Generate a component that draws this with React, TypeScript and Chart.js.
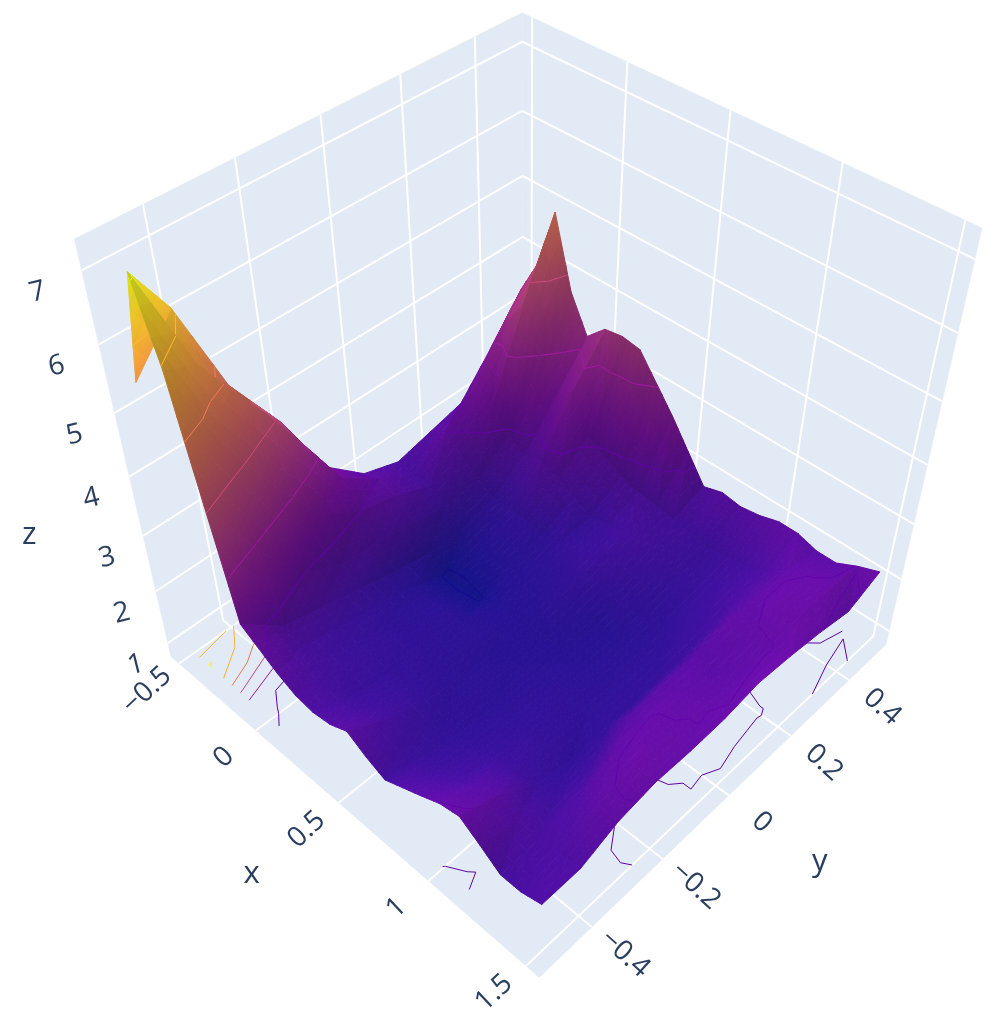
import React, { useEffect, useRef } from "react";
import { Chart, registerables } from "chart.js";

Chart.register(...registerables);

const xValues = [-0.5,-0.4,-0.3,-0.2,-0.1,0,0.1,0.2,0.3,0.4,0.5,0.6,0.7,0.8,0.9,1,1.1,1.2,1.3,1.4,1.5];
const yValues = [-0.5,-0.4,-0.3,-0.2,-0.1,0,0.1,0.2,0.3,0.4,0.5];

const zAtYm05 = [5.4,7.1,5.95,4.1,2.3,2.1,1.9,1.75,1.7,1.75,1.9,1.7,1.55,1.7,1.85,2.01,2.08,1.85,1.6,1.6,1.7];
const zAtYm04 = [6.1,5.5,4.4,2.9,1.75,1.6,1.55,1.5,1.45,1.5,1.55,1.45,1.4,1.45,1.55,1.75,1.85,1.68,1.62,1.65,1.7];
const zAtYm03 = [4.5,4.55,3.3,2.0,1.6,1.45,1.4,1.4,1.35,1.35,1.35,1.3,1.3,1.35,1.4,1.45,1.42,1.45,1.7,1.93,1.95];
const zAtYm02 = [3.6,3.5,2.4,1.7,1.45,1.35,1.3,1.3,1.3,1.28,1.25,1.28,1.25,1.3,1.35,1.35,1.3,1.5,1.97,2.08,2.05];
const zAtYm01 = [2.4,2.4,2.0,1.65,1.3,1.22,1.22,1.25,1.25,1.25,1.22,1.22,1.25,1.28,1.3,1.3,1.35,1.8,2.02,2.03,2.03];
const zAtY00 = [1.85,1.95,1.85,1.55,1.18,0.97,0.96,0.98,1.15,1.2,1.2,1.2,1.2,1.22,1.25,1.3,1.35,1.85,1.95,1.98,2.05];
const zAtY01 = [1.65,1.6,1.6,1.4,1.18,1.15,1.18,1.2,1.22,1.25,1.3,1.25,1.2,1.22,1.25,1.3,1.4,1.85,1.85,1.92,2.15];
const zAtY02 = [1.8,2.0,1.75,1.5,1.35,1.35,1.35,1.3,1.35,1.4,1.45,1.4,1.35,1.3,1.3,1.4,1.5,1.95,1.95,1.98,2.1];
const zAtY03 = [1.95,2.5,2.3,1.9,1.75,1.85,1.7,1.55,1.4,1.45,1.55,1.5,1.45,1.4,1.4,1.5,1.65,1.95,2.1,2.1,2.02];
const zAtY04 = [2.6,3.3,3.7,3.0,2.45,2.75,2.1,1.9,1.75,1.65,1.6,1.55,1.5,1.45,1.5,1.55,1.7,1.95,2.02,2.1,1.9];
const zAtY05 = [3.3,3.9,4.9,3.75,3.15,3.45,3.5,3.45,3.05,2.65,2.2,1.75,1.85,1.8,1.85,1.95,1.95,1.85,1.85,2.02,2.15];
const zRows = [zAtYm05,zAtYm04,zAtYm03,zAtYm02,zAtYm01,zAtY00,zAtY01,zAtY02,zAtY03,zAtY04,zAtY05];

const xTicks = [-0.5,0,0.5,1,1.5];
const yTicks = [-0.4,-0.2,0,0.2,0.4];
const zTicks = [1,2,3,4,5,6,7];
const contourLevels = [1,2,3,4,5,6,7];

const X_RANGE = [-0.555,1.565];
const Y_RANGE = [-0.54,0.534];
const Z_RANGE = [0.73,7.4];
const COLOR_RANGE = [0.95,7.1];
const PLASMA = ["#0d0887","#46039f","#7201a8","#9c179e","#bd3786","#d8576b","#ed7953","#fb9f3a","#fdca26","#f0f921"];
const WALL = "#e2eaf5";
const INK = "#2a3f5f";
const TICK_FONT = '28px "Open Sans"';
const TITLE_FONT = '31px "Open Sans"';
const SUBDIVISION = 3;

const calibration = [
  [X_RANGE[0],Y_RANGE[0],Z_RANGE[0],170.7,656.7],
  [X_RANGE[1],Y_RANGE[0],Z_RANGE[0],539,977.3],
  [X_RANGE[1],Y_RANGE[1],Z_RANGE[0],886.7,645],
  [X_RANGE[0],Y_RANGE[0],Z_RANGE[1],74,239],
  [X_RANGE[0],Y_RANGE[1],Z_RANGE[1],522.3,13.3],
  [X_RANGE[1],Y_RANGE[1],Z_RANGE[1],982.3,228],
  [X_RANGE[0],Y_RANGE[1],7,522.3,41.7],
  [X_RANGE[0],Y_RANGE[1],4,522.3,236.7],
  [X_RANGE[0],Y_RANGE[0],4,129.3,476],
  [X_RANGE[1],Y_RANGE[1],1,889,630],
  [X_RANGE[1],0,Z_RANGE[0],727.7,796],
  [0.5,Y_RANGE[0],Z_RANGE[0],340,803],
];

const nu = (x: number) => (x - X_RANGE[0]) / (X_RANGE[1] - X_RANGE[0]);
const nv = (y: number) => (y - Y_RANGE[0]) / (Y_RANGE[1] - Y_RANGE[0]);
const nw = (z: number) => (z - Z_RANGE[0]) / (Z_RANGE[1] - Z_RANGE[0]);

function solveCamera(): number[] {
  const n = 11;
  const A = Array.from({ length: n }, () => new Array(n + 1).fill(0));
  const add = (r: number[], b: number) => {
    for (let i = 0; i < n; i++) {
      for (let j = 0; j < n; j++) A[i][j] += r[i] * r[j];
      A[i][n] += r[i] * b;
    }
  };
  for (const [x, y, z, sx, sy] of calibration) {
    const u = nu(x), v = nv(y), w = nw(z), px = sx / 1000, py = sy / 1000;
    add([u,v,w,1,0,0,0,0,-px*u,-px*v,-px*w], px);
    add([0,0,0,0,u,v,w,1,-py*u,-py*v,-py*w], py);
  }
  for (let c = 0; c < n; c++) {
    let p = c;
    for (let r = c + 1; r < n; r++) if (Math.abs(A[r][c]) > Math.abs(A[p][c])) p = r;
    [A[c], A[p]] = [A[p], A[c]];
    for (let r = 0; r < n; r++) {
      if (r === c) continue;
      const f = A[r][c] / A[c][c];
      for (let k = c; k <= n; k++) A[r][k] -= f * A[c][k];
    }
  }
  return A.map((row, i) => row[n] / row[i]);
}

const cam = solveCamera();
function depth(x: number, y: number, z: number) {
  return cam[8]*nu(x) + cam[9]*nv(y) + cam[10]*nw(z) + 1;
}
function project(x: number, y: number, z: number) {
  const u = nu(x), v = nv(y), w = nw(z);
  const d = cam[8]*u + cam[9]*v + cam[10]*w + 1;
  return {
    x: 1000 * (cam[0]*u + cam[1]*v + cam[2]*w + cam[3]) / d,
    y: 1000 * (cam[4]*u + cam[5]*v + cam[6]*w + cam[7]) / d,
  };
}

function rgbOf(hex: string) {
  return [1,3,5].map((i) => parseInt(hex.slice(i, i + 2), 16));
}
const plasmaRgb = PLASMA.map(rgbOf);
const SURFACE_LIFT = [6, 12, 3];
function plasma(z: number, shade = 1, lift = false) {
  const t = Math.max(0, Math.min(1, (z - COLOR_RANGE[0]) / (COLOR_RANGE[1] - COLOR_RANGE[0]))) * (plasmaRgb.length - 1);
  const i = Math.min(plasmaRgb.length - 2, Math.floor(t));
  const f = t - i;
  const c = plasmaRgb[i].map((a, k) => Math.min(255, Math.round((a + (plasmaRgb[i + 1][k] - a) * f) * shade + (lift ? SURFACE_LIFT[k] : 0))));
  return `rgb(${c[0]},${c[1]},${c[2]})`;
}

function lineSet(data: {x:number,y:number}[], color: string, width: number) {
  return { data, borderColor: color, borderWidth: width, showLine: true, pointRadius: 0, fill: false, clip: false, tension: 0 };
}

const LIGHT = [-0.5, 0.2, 0.84];
function shadeOfSlope(dzdu: number, dzdv: number) {
  const len = Math.hypot(dzdu, dzdv, 1);
  const dot = Math.max(0, (-dzdu*LIGHT[0] - dzdv*LIGHT[1] + LIGHT[2]) / len);
  return 0.68 + 0.38 * dot;
}
function cellShade(i: number, j: number) {
  const span = Z_RANGE[1] - Z_RANGE[0];
  const dzdu = ((zRows[j][i+1] + zRows[j+1][i+1] - zRows[j][i] - zRows[j+1][i]) / 2) / span / (nu(xValues[i+1]) - nu(xValues[i]));
  const dzdv = ((zRows[j+1][i] + zRows[j+1][i+1] - zRows[j][i] - zRows[j][i+1]) / 2) / span / (nv(yValues[j+1]) - nv(yValues[j]));
  return shadeOfSlope(dzdu, dzdv);
}
function triangleShade(t: number[][]) {
  const a = [nu(t[1][0])-nu(t[0][0]), nv(t[1][1])-nv(t[0][1]), nw(t[1][2])-nw(t[0][2])];
  const b = [nu(t[2][0])-nu(t[0][0]), nv(t[2][1])-nv(t[0][1]), nw(t[2][2])-nw(t[0][2])];
  const nx = a[1]*b[2]-a[2]*b[1], ny = a[2]*b[0]-a[0]*b[2], nz = a[0]*b[1]-a[1]*b[0];
  return shadeOfSlope(-nx/nz, -ny/nz);
}

function vertexShade(i: number, j: number) {
  let sum = 0, count = 0;
  for (const a of [i-1, i]) for (const b of [j-1, j]) {
    if (a >= 0 && b >= 0 && a < xValues.length - 1 && b < yValues.length - 1) { sum += cellShade(a, b); count++; }
  }
  return sum / count;
}

function triangleSet(ctx: CanvasRenderingContext2D, verts: number[][], shade: number) {
  const pts = verts.map(([x, y, z]) => project(x, y, z));
  const zs = verts.map((v) => v[2]);
  const zlo = Math.min(...zs), zhi = Math.max(...zs);
  const det = (pts[1].x-pts[0].x)*(pts[2].y-pts[0].y) - (pts[2].x-pts[0].x)*(pts[1].y-pts[0].y);
  let paint: any = plasma((zlo + zhi) / 2, shade, true);
  if (zhi - zlo > 1e-6 && Math.abs(det) > 1e-3) {
    const gx = ((zs[1]-zs[0])*(pts[2].y-pts[0].y) - (zs[2]-zs[0])*(pts[1].y-pts[0].y)) / det;
    const gy = ((zs[2]-zs[0])*(pts[1].x-pts[0].x) - (zs[1]-zs[0])*(pts[2].x-pts[0].x)) / det;
    const g2 = gx*gx + gy*gy;
    const s = pts[zs.indexOf(zlo)];
    const k = (zhi - zlo) / g2;
    const grad = ctx.createLinearGradient(s.x, s.y, s.x + gx*k, s.y + gy*k);
    const steps = Math.max(1, Math.ceil((zhi - zlo) / 0.4));
    for (let q = 0; q <= steps; q++) grad.addColorStop(q / steps, plasma(zlo + (zhi - zlo) * q / steps, shade, true));
    paint = grad;
  }
  return {
    data: [pts[0], pts[1], pts[2], pts[0]],
    backgroundColor: paint, borderColor: paint, borderWidth: 1,
    fill: "shape", showLine: true, pointRadius: 0, clip: false, tension: 0,
    borderJoinStyle: "round",
  };
}

function subdivide(ctx: CanvasRenderingContext2D, t: number[][], sh: number[]) {
  const n = SUBDIVISION;
  const flat = triangleShade(t);
  const at = (a: number, b: number) => {
    const c = n - a - b;
    const w = [a / n, b / n, c / n];
    return [0,1,2].map((k) => w[0]*t[0][k] + w[1]*t[1][k] + w[2]*t[2][k]).concat([w[0]*sh[0] + w[1]*sh[1] + w[2]*sh[2]]);
  };
  const out: any[] = [];
  const emit = (p: number[], q: number[], r: number[]) => {
    out.push(triangleSet(ctx, [p, q, r], 0.35 * flat + 0.65 * (p[3] + q[3] + r[3]) / 3));
  };
  for (let a = 0; a < n; a++) for (let b = 0; b < n - a; b++) {
    emit(at(a, b), at(a + 1, b), at(a, b + 1));
    if (a + b < n - 1) emit(at(a + 1, b), at(a + 1, b + 1), at(a, b + 1));
  }
  return out;
}

function triangleContours(t: number[][], level: number) {
  const cross: number[][] = [];
  for (let e = 0; e < 3; e++) {
    const a = t[e], b = t[(e + 1) % 3];
    if ((a[2] < level) !== (b[2] < level)) {
      const f = (level - a[2]) / (b[2] - a[2]);
      cross.push([a[0] + (b[0] - a[0]) * f, a[1] + (b[1] - a[1]) * f]);
    }
  }
  return cross.length === 2 ? [cross] : [];
}

function buildDatasets(ctx: CanvasRenderingContext2D) {
  const groups: { d: number, sets: any[] }[] = [];
  const floorLines: any[] = [];
  for (let j = 0; j < yValues.length - 1; j++) for (let i = 0; i < xValues.length - 1; i++) {
    const a = [xValues[i],yValues[j],zRows[j][i]];
    const b = [xValues[i+1],yValues[j],zRows[j][i+1]];
    const c = [xValues[i+1],yValues[j+1],zRows[j+1][i+1]];
    const e = [xValues[i],yValues[j+1],zRows[j+1][i]];
    const sa = vertexShade(i, j), sb = vertexShade(i+1, j), sc = vertexShade(i+1, j+1), se = vertexShade(i, j+1);
    const tris: [number[][], number[]][] = [[[a,b,e],[sa,sb,se]], [[b,c,e],[sb,sc,se]]];
    for (const [t, sh] of tris) {
      const d = depth((t[0][0]+t[1][0]+t[2][0])/3,(t[0][1]+t[1][1]+t[2][1])/3,(t[0][2]+t[1][2]+t[2][2])/3);
      const lines: any[] = [];
      for (const level of contourLevels) {
        for (const [p, q] of triangleContours(t, level)) {
          lines.push(lineSet([project(p[0],p[1],level),project(q[0],q[1],level)], plasma(level, 1.05), 1));
          floorLines.push(lineSet([project(p[0],p[1],Z_RANGE[0]),project(q[0],q[1],Z_RANGE[0])], plasma(level), 1));
        }
      }
      groups.push({ d, sets: [...lines, ...subdivide(ctx, t, sh)] });
    }
  }
  groups.sort((m, n) => m.d - n.d);

  const [x0,x1] = X_RANGE, [y0,y1] = Y_RANGE, [z0,z1] = Z_RANGE;
  const grid: any[] = [];
  const white = "#ffffff";
  for (const t of xTicks) {
    grid.push(lineSet([project(t,y0,z0),project(t,y1,z0)], white, 2));
    grid.push(lineSet([project(t,y1,z0),project(t,y1,z1)], white, 2));
  }
  for (const t of yTicks) {
    grid.push(lineSet([project(x1,t,z0),project(x0,t,z0)], white, 2));
    grid.push(lineSet([project(x0,t,z0),project(x0,t,z1)], white, 2));
  }
  for (const t of zTicks) {
    grid.push(lineSet([project(x0,y0,t),project(x0,y1,t)], white, 2));
    grid.push(lineSet([project(x0,y1,t),project(x1,y1,t)], white, 2));
  }
  const wall = (corners: number[][]) => {
    const pts = corners.map(([a,b,c]) => project(a,b,c));
    return { data: [...pts, pts[0]], backgroundColor: WALL, borderColor: WALL, borderWidth: 0.5, fill: "shape", showLine: true, pointRadius: 0, clip: false, tension: 0 };
  };
  const walls = [
    wall([[x0,y0,z0],[x1,y0,z0],[x1,y1,z0],[x0,y1,z0]]),
    wall([[x0,y0,z0],[x0,y1,z0],[x0,y1,z1],[x0,y0,z1]]),
    wall([[x0,y1,z0],[x1,y1,z0],[x1,y1,z1],[x0,y1,z1]]),
  ];
  return [...groups.flatMap((s) => s.sets), ...floorLines, ...grid, ...walls];
}

const axisText = {
  id: "axisText",
  afterDraw(chart: any) {
    const c = chart.ctx;
    const put = (text: string, x: number, y: number, deg: number, font: string) => {
      c.save();
      c.translate(x, y);
      c.rotate(deg * Math.PI / 180);
      c.font = font;
      c.fillStyle = INK;
      c.textAlign = "center";
      c.textBaseline = "middle";
      c.fillText(text, 0, 0);
      c.restore();
    };
    const fmt = (v: number) => String(v).replace("-", "\u2212");
    for (const t of xTicks) {
      const p = project(t, Y_RANGE[0], Z_RANGE[0]);
      put(fmt(t), p.x - 32, p.y + 27, -43, TICK_FONT);
    }
    for (const t of yTicks) {
      const p = project(X_RANGE[1], t, Z_RANGE[0]);
      put(fmt(t), p.x + 33, p.y + 27, 42, TICK_FONT);
    }
    for (const t of zTicks) {
      const p = project(X_RANGE[0], Y_RANGE[0], t);
      put(fmt(t), p.x - 32 - (t - 1) * 2, p.y + 22, -14, TICK_FONT);
    }
    const xp = project(0.75, Y_RANGE[0], Z_RANGE[0]);
    put("x", xp.x - 131, xp.y + 33, 0, TITLE_FONT);
    const yp = project(X_RANGE[1], 0, Z_RANGE[0]);
    put("y", yp.x + 91, yp.y + 67, 0, TITLE_FONT);
    const zp = project(X_RANGE[0], Y_RANGE[0], 3.5);
    put("z", zp.x - 107, zp.y + 28, 0, TITLE_FONT);
  },
};

export default function App() {
  const ref = useRef<HTMLCanvasElement | null>(null);
  useEffect(() => {
    const canvas = ref.current!;
    const ctx = canvas.getContext("2d")!;
    const chart = new Chart(canvas, {
      type: "scatter",
      data: { datasets: buildDatasets(ctx) as any },
      options: {
        responsive: false,
        animation: false,
        devicePixelRatio: 1,
        events: [],
        layout: { padding: 0 },
        parsing: false,
        normalized: true,
        plugins: { legend: { display: false }, tooltip: { enabled: false } },
        scales: {
          x: { type: "linear", min: 0, max: 998, display: false },
          y: { type: "linear", min: 0, max: 1036, reverse: true, display: false },
        },
      } as any,
      plugins: [axisText],
    });
    return () => chart.destroy();
  }, []);
  return <canvas ref={ref} width={998} height={1036} style={{ position: "fixed", left: 0, top: 0, display: "block", background: "#fff" }} />;
}
